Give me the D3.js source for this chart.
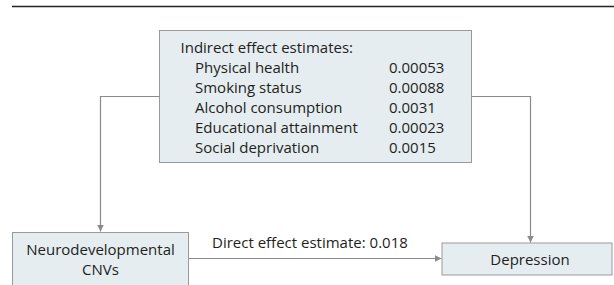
<!DOCTYPE html>
<html><head><meta charset="utf-8">
<script src="https://cdn.jsdelivr.net/npm/d3@7"></script>
<style>html,body{margin:0;padding:0;background:#fff;}svg{display:block;}</style>
</head><body>
<script>
const title = "Indirect effect estimates:";
const mediators = ["Physical health","Smoking status","Alcohol consumption","Educational attainment","Social deprivation"];
const indirectValues = ["0.00053","0.00088","0.0031","0.00023","0.0015"];
const exposureLabel = ["Neurodevelopmental","CNVs"];
const outcomeLabel = "Depression";
const directEffect = "0.018";

const W=614,H=285;
const FONT = "'Open Sans',sans-serif";
const fill="#e5edf1", stroke="#999", lineC="#8a8a8a", txt="#231f20";
const svg=d3.select("body").append("svg").attr("width",W).attr("height",H);
const defs=svg.append("defs");
defs.append("marker").attr("id","ah").attr("viewBox","0 0 10 10").attr("refX",10).attr("refY",5)
  .attr("markerWidth",7).attr("markerHeight",7).attr("markerUnits","userSpaceOnUse").attr("orient","auto")
  .append("path").attr("d","M0,0L10,5L0,10Z").attr("fill",lineC);

svg.append("line").attr("x1",12).attr("x2",W).attr("y1",6.5).attr("y2",6.5).attr("stroke","#222").attr("stroke-width",1.5);

const y=d3.scalePoint().domain([title,...mediators]).range([53,153]);

const shapes=svg.append("g");
const g=svg.append("g").attr("font-family",FONT).attr("font-size",15).attr("fill",txt);

// top box
shapes.append("rect").attr("x",159.5).attr("y",30.5).attr("width",312).attr("height",132).attr("fill",fill).attr("stroke",stroke);
g.append("text").attr("x",180.5).attr("y",y(title)).text(title);
g.selectAll("text.m").data(mediators).join("text").attr("class","m").attr("x",195).attr("y",d=>y(d)).text(d=>d);
g.selectAll("text.v").data(indirectValues).join("text").attr("class","v").attr("x",389).attr("y",(d,i)=>y(mediators[i])).text(d=>d);

// connectors
const line=d3.line();
const conn=(pts)=>shapes.append("path").attr("d",line(pts)).attr("fill","none").attr("stroke",lineC).attr("stroke-width",1.2).attr("marker-end","url(#ah)");
conn([[159.5,96.5],[100.5,96.5],[100.5,231.5]]);
conn([[471.5,96.5],[530.5,96.5],[530.5,242.5]]);
conn([[189,258.5],[441.5,258.5]]);

// exposure box
shapes.append("rect").attr("x",12.5).attr("y",232.5).attr("width",176).attr("height",70).attr("fill",fill).attr("stroke",stroke);
g.selectAll("text.e").data(exposureLabel).join("text").attr("class","e").attr("x",100.5).attr("y",(d,i)=>255+i*20).attr("text-anchor","middle").text(d=>d);

// outcome box
shapes.append("rect").attr("x",442).attr("y",243).attr("width",170).attr("height",32).attr("fill",fill).attr("stroke",stroke);
g.append("text").attr("x",530).attr("y",265).attr("text-anchor","middle").text(outcomeLabel);

g.append("text").attr("x",212).attr("y",248).text("Direct effect estimate: "+directEffect);
</script>
</body></html>
